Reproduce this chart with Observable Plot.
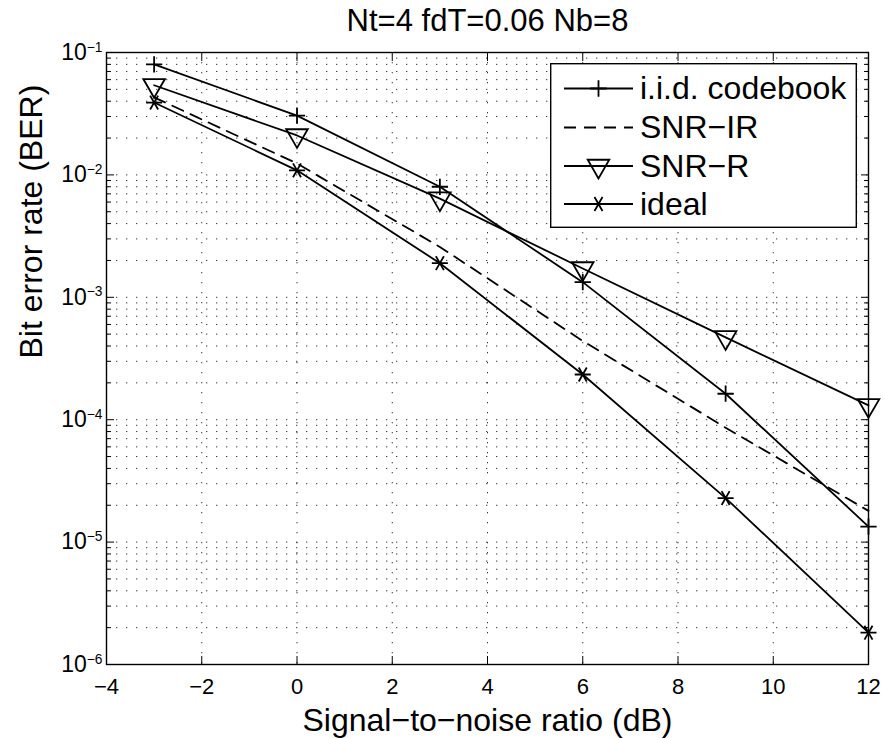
<!DOCTYPE html>
<html>
<head>
<meta charset="utf-8">
<script src="https://cdn.jsdelivr.net/npm/d3@7"></script>
<script src="https://cdn.jsdelivr.net/npm/@observablehq/plot@0.6"></script>
<style>
  body { margin: 0; background: #fff; }
  #wrap { position: relative; width: 885px; height: 738px; }
  #legend { position: absolute; left: 550px; top: 63px; }
  text { font-family: "Liberation Sans", Arial, Helvetica, sans-serif; }
</style>
</head>
<body>
<div id="wrap"></div>
<script>
// ---- data ----
const snr = [-3, 0, 3, 6, 9, 12];
const berIid    = [0.080, 0.0305, 0.0080, 0.00133, 1.63e-4, 1.34e-5];
const berSnrIR  = [0.043, 0.0124, 0.00258, 4.4e-4, 8.6e-5, 1.8e-5];
const berSnrR   = [0.054, 0.021, 0.0064, 0.00172, 4.7e-4, 1.31e-4];
const berIdeal  = [0.039, 0.0109, 0.0019, 2.34e-4, 2.29e-5, 1.82e-6];
const seriesNames = ["i.i.d. codebook", "SNR−IR", "SNR−R", "ideal"];
const xTicks = [-4, -2, 0, 2, 4, 6, 8, 10, 12];
const yDecades = [1e-6, 1e-5, 1e-4, 1e-3, 1e-2, 1e-1];
const yExponents = ["−6", "−5", "−4", "−3", "−2", "−1"];
const titleText = "Nt=4 fdT=0.06 Nb=8";
const xLabel = "Signal−to−noise ratio (dB)";
const yLabel = "Bit error rate (BER)";

// ---- tables built from the arrays ----
const seriesValues = [berIid, berSnrIR, berSnrR, berIdeal];
const rows = [];
seriesNames.forEach((name, s) => snr.forEach((x, i) => rows.push({series: name, snr: x, ber: seriesValues[s][i]})));
const bySeries = name => rows.filter(d => d.series === name);
const yMinor = [];
yDecades.slice(0, -1).forEach(d => { for (let m = 2; m <= 9; m++) yMinor.push(d * m); });
const expOf = new Map(yDecades.map((d, i) => [d, yExponents[i]]));

const FONT = '"Liberation Sans", Arial, Helvetica, sans-serif';
const gridStyle = {stroke: "#000", strokeOpacity: 0.8, strokeWidth: 1, strokeDasharray: "1.3,8.7"};
const lineStyle = {x: "snr", y: "ber", stroke: "black", strokeWidth: 1.8};
const dotStyle = {x: "snr", y: "ber", stroke: "black", fill: "none", strokeWidth: 1.8};

const svg = Plot.plot({
  width: 885,
  height: 738,
  marginLeft: 106,
  marginRight: 17,
  marginTop: 52,
  marginBottom: 74,
  style: {fontFamily: FONT, fontSize: "21px", background: "white", color: "black", overflow: "visible"},
  x: {domain: [-4, 12], label: null},
  y: {type: "log", domain: [1e-6, 1e-1], label: null},
  marks: [
    Plot.ruleX(xTicks.slice(1, -1), gridStyle),
    Plot.ruleY(yMinor.concat(yDecades.slice(1, -1)), gridStyle),
    Plot.frame({stroke: "black", strokeWidth: 1.4}),
    // inward tick marks
    Plot.axisX({anchor: "bottom", ticks: xTicks, tickSize: -8, tickFormat: () => "", label: null}),
    Plot.axisX({anchor: "top", ticks: xTicks, tickSize: -8, tickFormat: () => "", label: null}),
    Plot.axisY({anchor: "left", ticks: yDecades, tickSize: -8, tickFormat: () => "", label: null}),
    Plot.axisY({anchor: "right", ticks: yDecades, tickSize: -8, tickFormat: () => "", label: null}),
    Plot.axisY({anchor: "left", ticks: yMinor, tickSize: -5, tickFormat: () => "", label: null}),
    Plot.axisY({anchor: "right", ticks: yMinor, tickSize: -5, tickFormat: () => "", label: null}),
    // tick labels
    Plot.axisX({anchor: "bottom", ticks: xTicks, tickSize: 0, tickPadding: 14, fontSize: 22,
      tickFormat: d => String(d).replace("-", "−"), label: null}),
    Plot.axisY({anchor: "left", ticks: yDecades, tickSize: 0, tickPadding: 4, fontSize: 23,
      tickFormat: d => "10^" + expOf.get(d), label: null}),
    // series
    Plot.line(bySeries(seriesNames[1]), {...lineStyle, strokeDasharray: "12,8"}),
    Plot.line(bySeries(seriesNames[0]), lineStyle),
    Plot.line(bySeries(seriesNames[2]), lineStyle),
    Plot.line(bySeries(seriesNames[3]), lineStyle),
    Plot.dot(bySeries(seriesNames[0]), {...dotStyle, symbol: "plus", r: 5.3}),
    Plot.dot(bySeries(seriesNames[2]), {...dotStyle, symbol: "triangle2", r: 10.3, rotate: 180}),
    Plot.dot(bySeries(seriesNames[3]), {...dotStyle, symbol: "asterisk", r: 7.6, rotate: 90}),
    // texts
    Plot.text([titleText], {frameAnchor: "top", dy: -22, lineAnchor: "bottom", fontSize: 31, fill: "black"}),
    Plot.text([xLabel], {frameAnchor: "bottom", dy: 66, lineAnchor: "bottom", fontSize: 32, fill: "black"}),
    Plot.text([yLabel], {frameAnchor: "left", dx: -75, rotate: -90, lineAnchor: "middle", fontSize: 32, fill: "black"})
  ]
});

// superscript exponents on y tick labels
d3.select(svg).selectAll("text").each(function () {
  const t = this.textContent;
  if (t.startsWith("10^")) {
    const sel = d3.select(this);
    sel.text("10");
    sel.append("tspan").attr("dy", "-0.6em").attr("font-size", "0.6em").text(t.slice(3));
  }
});

const wrap = document.getElementById("wrap");
wrap.appendChild(svg);

// ---- legend (inside the axes box, like the original) ----
const lw = 307, lh = 165;
const leg = d3.select(wrap).append("svg").attr("id", "legend").attr("width", lw).attr("height", lh);
leg.append("rect").attr("x", 0.7).attr("y", 0.7).attr("width", lw - 1.4).attr("height", lh - 1.4)
  .attr("fill", "white").attr("stroke", "black").attr("stroke-width", 1.4);
const symArea = r => Math.PI * r * r;
const legendItems = [
  {name: seriesNames[0], dash: null, symbol: d3.symbolPlus, r: 5.3, rotate: 0},
  {name: seriesNames[1], dash: "12,8", symbol: null},
  {name: seriesNames[2], dash: null, symbol: d3.symbolTriangle2, r: 10.3, rotate: 180},
  {name: seriesNames[3], dash: null, symbol: d3.symbolAsterisk, r: 7.6, rotate: 90}
];
const rowY = [25.5, 64.5, 103, 141];
legendItems.forEach((it, i) => {
  const g = leg.append("g").attr("transform", `translate(0,${rowY[i]})`);
  g.append("line").attr("x1", 14).attr("x2", 83).attr("y1", 0).attr("y2", 0)
    .attr("stroke", "black").attr("stroke-width", 1.8).attr("stroke-dasharray", it.dash);
  if (it.symbol) {
    g.append("path").attr("d", d3.symbol(it.symbol, symArea(it.r))())
      .attr("transform", `translate(48.5,0) rotate(${it.rotate})`)
      .attr("fill", "none").attr("stroke", "black").attr("stroke-width", 1.8);
  }
  g.append("text").attr("x", 90).attr("y", 0).attr("dy", "0.33em")
    .attr("font-size", 32).attr("font-family", FONT).attr("fill", "black").text(it.name);
});
</script>
</body>
</html>
